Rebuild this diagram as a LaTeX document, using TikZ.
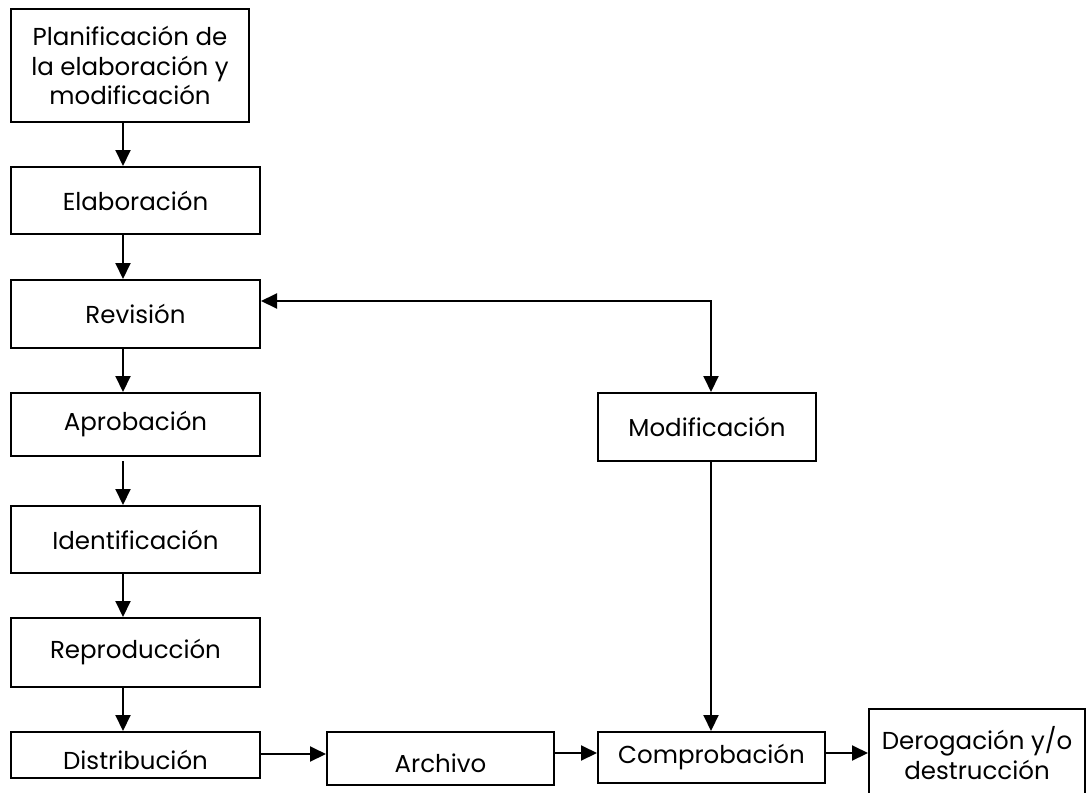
\documentclass[tikz,border=0pt]{standalone}
\usepackage{fontspec}
\setmainfont{Poppins}
\usetikzlibrary{arrows.meta}
\tikzset{
  box/.style={draw, line width=2pt, rectangle, anchor=north west, inner sep=0pt,
    align=center, font=\fontsize{24.5}{29.5}\selectfont},
  lowtext/.style={text height=29pt},
  arr/.style={line width=2pt, -{Triangle[length=16pt,width=15pt]}},
  darr/.style={line width=2pt, {Triangle[length=16pt,width=15pt]}-{Triangle[length=16pt,width=15pt]}},
}
\begin{document}
\begin{tikzpicture}[x=1pt,y=-1pt]
\useasboundingbox (0,0) rectangle (1086,792);
\clip (0,0) rectangle (1086,792);

% left column
\node[box, minimum width=238pt, minimum height=113pt] (plan) at (10,8)
  {Planificación de\\la elaboración y\\modificación};
\node[box, minimum width=249pt, minimum height=67pt] (elab) at (10,166) {Elaboración};
\node[box, minimum width=249pt, minimum height=68pt] (rev) at (10,279) {Revisión};
\node[box, minimum width=249pt, minimum height=63pt] (apr) at (10,392) {Aprobación};
\node[box, minimum width=249pt, minimum height=67pt] (ide) at (10,505) {Identificación};
\node[box, minimum width=249pt, minimum height=69pt] (rep) at (10,617) {Reproducción};
\node[box, lowtext, minimum width=249pt, minimum height=46pt] (dis) at (10,731) {Distribución};

% bottom row and right branch
\node[box, lowtext, minimum width=227pt, minimum height=53pt] (arc) at (326,731) {Archivo};
\node[box, minimum width=227pt, minimum height=51pt] (com) at (597,731) {Comprobación};
\node[box, minimum width=216pt, minimum height=88pt] (der) at (868,708) {Derogación y/o\\destrucción};
\node[box, minimum width=218pt, minimum height=68pt] (mod) at (597,392) {Modificación};

% vertical flow of the left column
\coordinate (ax) at (123,0);
\draw[arr] (plan.south -| ax) -- (elab.north -| ax);
\draw[arr] (elab.south -| ax) -- (rev.north -| ax);
\draw[arr] (rev.south -| ax) -- (apr.north -| ax);
\draw[arr, shorten <=4pt] (apr.south -| ax) -- (ide.north -| ax);
\draw[arr] (ide.south -| ax) -- (rep.north -| ax);
\draw[arr] (rep.south -| ax) -- (dis.north -| ax);

% horizontal flow along the bottom
\coordinate (by) at (0,754);
\draw[arr] (dis.east |- by) -- (arc.west |- by);
\coordinate (by2) at (0,753);
\draw[arr] (arc.east |- by2) -- (com.west |- by2);
\draw[arr] (com.east |- by2) -- (der.west |- by2);

% revision loop through modification
\coordinate (mx) at (711,0);
\coordinate (ry) at (0,301);
\draw[darr] (rev.east |- ry) -| (mod.north -| mx);
\draw[arr] (mod.south -| mx) -- (com.north -| mx);
\end{tikzpicture}
\end{document}
